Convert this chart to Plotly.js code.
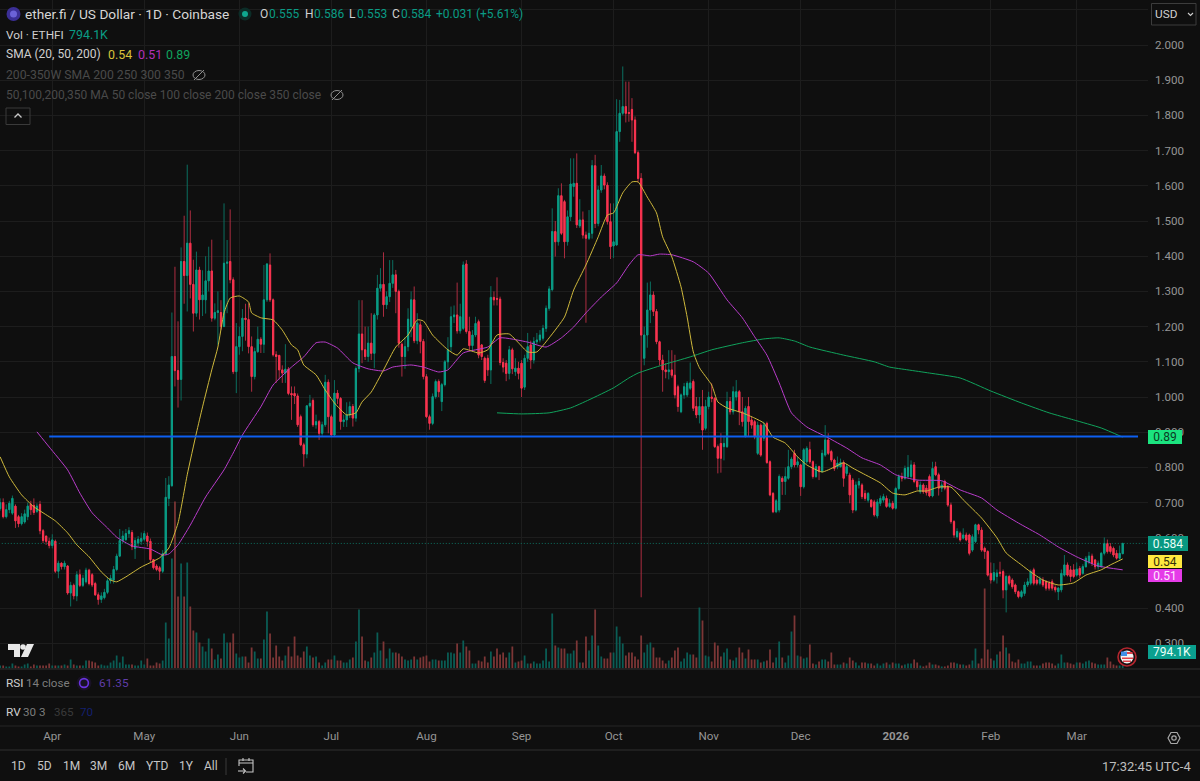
<!DOCTYPE html>
<html><head><meta charset="utf-8">
<script src="https://cdn.plot.ly/plotly-3.0.1.min.js"></script>
<style>html,body{margin:0;padding:0;background:#0f0f0f}#c{width:1200px;height:781px}</style>
</head><body><div id="c"></div>
<script>
// Daily candles from 2025-03-15 to 2026-03-16
const startDay = Date.UTC(2025, 2, 15);
const openPrice = [
.683,.700,.660,.680,.670,.690,.660,.640,.645,.660,
.695,.692,.675,.695,.620,.605,.590,.578,.590,.505,
.528,.518,.520,.443,.465,.435,.495,.465,.475,.508,
.495,.470,.438,.425,.430,.445,.478,.480,.510,.548,
.592,.595,.612,.615,.570,.585,.590,.596,.605,.590,
.538,.520,.515,.505,.555,.712,.748,1.115,1.075,1.05,
1.385,1.345,1.437,1.32,1.238,1.361,1.276,1.276,1.330,1.358,
1.224,1.240,1.240,1.200,1.380,1.385,1.333,1.072,1.143,1.172,
1.224,1.220,1.143,1.058,1.129,1.164,1.150,1.276,1.375,1.276,
1.120,1.118,1.077,1.068,1.079,1.010,1.010,1.003,.944,.864,
.838,.975,.990,.921,.930,.897,.921,1.042,.944,.892,
1.011,.996,.930,.935,.949,.973,.940,1.081,1.179,1.134,
1.115,1.153,1.124,1.233,1.309,1.320,1.262,1.285,1.323,1.347,
1.300,1.150,1.115,1.143,1.200,1.276,1.160,1.205,1.158,1.058,
.944,.925,1.001,1.044,.987,1.035,1.100,1.143,1.228,1.233,
1.188,1.195,1.378,1.186,1.146,1.176,1.214,1.148,1.110,1.110,
1.077,1.283,1.280,1.278,1.098,1.096,1.067,1.134,1.072,1.082,
1.096,1.028,1.110,1.148,1.105,1.157,1.162,1.167,1.195,1.252,
1.305,1.470,1.441,1.572,1.555,1.441,1.512,1.598,1.607,1.486,
1.503,1.460,1.451,1.465,1.657,1.493,1.588,1.628,1.602,1.498,
1.429,1.432,1.754,1.806,1.825,1.808,1.817,1.787,1.694,1.621,
1.110,1.176,1.247,1.290,1.243,1.157,1.105,1.077,1.072,1.077,
1.062,1.029,.958,1.006,1.006,1.025,1.044,.973,.949,.973,
.911,.973,1.0,.996,.859,.868,.859,.859,.987,.958,
1.0,1.015,.958,.887,.973,.935,.93,.84,.92,.883,
.925,.816,.726,.674,.679,.769,.76,.769,.802,.84,
.807,.807,.745,.816,.85,.816,.774,.802,.788,.835,
.878,.845,.821,.802,.802,.814,.783,.778,.764,.679,
.75,.75,.726,.707,.707,.702,.662,.698,.707,.712,
.689,.698,.684,.74,.774,.769,.774,.774,.807,.76,
.731,.75,.741,.774,.719,.802,.779,.741,.76,.745,
.693,.646,.603,.613,.599,.608,.608,.565,.589,.637,
.622,.57,.561,.499,.48,.49,.502,.504,.452,.49,
.48,.466,.447,.433,.442,.466,.471,.509,.48,.471,
.48,.475,.471,.475,.459,.447,.452,.494,.523,.509,
.509,.494,.513,.499,.518,.532,.548,.537,.518,.518,
.556,.584,.575,.57,.556,.542,.555];
const closePrice = [
.700,.660,.680,.698,.712,.648,.640,.660,.668,.690,
.680,.672,.690,.620,.592,.590,.578,.594,.505,.528,
.518,.528,.443,.465,.435,.495,.465,.485,.508,.470,
.466,.438,.425,.435,.445,.478,.485,.510,.548,.592,
.605,.612,.620,.575,.592,.596,.598,.612,.590,.538,
.515,.510,.505,.555,.715,.750,1.115,1.075,1.05,1.385,
1.345,1.437,1.32,1.238,1.361,1.276,1.290,1.330,1.358,1.224,
1.240,1.245,1.200,1.380,1.383,1.333,1.072,1.143,1.172,1.224,
1.220,1.143,1.058,1.129,1.164,1.150,1.276,1.378,1.276,1.120,
1.115,1.077,1.068,1.079,1.010,1.006,1.003,.921,.864,.838,
.975,.982,.921,.930,.897,.921,1.042,.944,.892,1.011,
.996,.930,.935,.949,.973,.940,1.081,1.179,1.134,1.115,
1.153,1.124,1.233,1.309,1.320,1.262,1.285,1.323,1.347,1.300,
1.153,1.115,1.143,1.221,1.276,1.160,1.210,1.158,1.058,.944,
.925,1.001,1.044,1.015,1.035,1.100,1.134,1.228,1.233,1.188,
1.228,1.375,1.186,1.146,1.176,1.209,1.119,1.115,1.047,1.077,
1.283,1.276,1.278,1.098,1.085,1.067,1.134,1.08,1.082,1.067,
1.025,1.110,1.143,1.105,1.157,1.162,1.176,1.195,1.252,1.307,
1.470,1.441,1.572,1.465,1.441,1.512,1.605,1.607,1.489,1.503,
1.460,1.451,1.465,1.657,1.493,1.588,1.628,1.602,1.498,1.427,
1.441,1.754,1.806,1.825,1.806,1.806,1.787,1.694,1.621,1.176,
1.176,1.247,1.290,1.243,1.157,1.105,1.077,1.072,1.077,1.062,
1.006,.973,1.006,1.029,1.039,1.040,.968,.949,.973,.906,
.973,1.0,.996,.859,.826,.826,.868,.987,.958,1.015,
1.015,.958,.93,.968,.93,.92,.887,.92,.835,.92,
.814,.722,.674,.705,.774,.76,.774,.802,.824,.807,
.816,.745,.85,.854,.816,.774,.802,.788,.84,.878,
.84,.821,.797,.812,.814,.769,.802,.722,.679,.75,
.76,.717,.712,.726,.689,.665,.702,.712,.717,.689,
.698,.684,.74,.774,.769,.797,.80,.807,.76,.745,
.75,.731,.728,.719,.797,.779,.741,.75,.741,.693,
.646,.608,.618,.594,.608,.594,.556,.603,.637,.622,
.565,.561,.494,.48,.501,.5,.499,.452,.49,.471,
.461,.447,.433,.447,.466,.475,.504,.471,.471,.482,
.466,.457,.457,.457,.452,.457,.499,.523,.494,.49,
.49,.511,.494,.518,.542,.548,.528,.518,.528,.556,
.584,.561,.561,.551,.542,.556,.584];
const highPrice = [
.712,.712,.695,.705,.720,.695,.665,.670,.680,.700,
.705,.712,.698,.705,.625,.605,.600,.610,.595,.535,
.530,.535,.522,.475,.470,.505,.510,.495,.515,.512,
.500,.475,.445,.445,.455,.485,.495,.520,.555,.625,
.620,.625,.630,.622,.600,.605,.615,.620,.615,.598,
.540,.525,.520,.565,.770,.775,1.24,1.37,1.215,1.425,
1.515,1.66,1.53,1.39,1.413,1.37,1.36,1.40,1.427,1.447,
1.266,1.30,1.275,1.55,1.446,1.533,1.34,1.21,1.20,1.25,
1.265,1.266,1.172,1.14,1.20,1.17,1.375,1.38,1.408,1.28,
1.13,1.12,1.09,1.15,1.085,1.03,1.03,1.01,.95,.87,
.975,1.006,.996,.95,.935,.93,1.063,1.05,.95,1.048,
1.02,1.0,.95,.985,.987,.98,1.087,1.275,1.275,1.20,
1.20,1.238,1.238,1.347,1.366,1.411,1.30,1.389,1.389,1.361,
1.305,1.155,1.17,1.252,1.30,1.314,1.238,1.215,1.165,1.065,
.95,1.01,1.05,1.05,1.04,1.105,1.17,1.257,1.26,1.325,
1.265,1.385,1.389,1.228,1.19,1.228,1.22,1.15,1.115,1.12,
1.315,1.30,1.34,1.285,1.11,1.105,1.145,1.14,1.11,1.10,
1.105,1.12,1.182,1.16,1.17,1.182,1.19,1.205,1.26,1.315,
1.536,1.50,1.593,1.607,1.56,1.53,1.678,1.678,1.692,1.562,
1.527,1.47,1.531,1.673,1.688,1.60,1.659,1.635,1.61,1.55,
1.55,1.846,1.844,1.939,1.896,1.896,1.849,1.797,1.70,1.636,
1.20,1.325,1.328,1.30,1.25,1.16,1.12,1.096,1.133,1.133,
1.12,1.035,1.01,1.04,1.045,1.098,1.05,1.0,1.0,1.02,
.992,1.015,1.039,1.0,.865,.897,.89,1.015,1.0,1.03,
1.048,1.02,1.0,.975,1.0,.945,.935,.93,.925,.93,
.93,.82,.73,.71,.78,.775,.80,.85,.83,.85,
.83,.81,.855,.86,.873,.82,.81,.805,.85,.92,
.897,.85,.825,.831,.825,.82,.81,.785,.77,.76,
.77,.755,.735,.73,.71,.708,.71,.72,.725,.72,
.71,.705,.745,.78,.785,.805,.835,.82,.815,.765,
.76,.755,.75,.78,.816,.816,.785,.76,.765,.75,
.70,.65,.627,.618,.627,.615,.612,.61,.64,.64,
.63,.575,.565,.53,.528,.51,.532,.51,.495,.495,
.485,.47,.45,.452,.475,.485,.51,.515,.488,.49,
.488,.48,.478,.482,.465,.46,.51,.551,.53,.52,
.525,.53,.52,.525,.548,.56,.555,.54,.535,.56,
.601,.595,.585,.575,.565,.578,.586];
const lowPrice = [
.677,.655,.655,.670,.665,.628,.630,.635,.640,.650,
.665,.665,.670,.610,.585,.580,.570,.570,.500,.485,
.510,.510,.438,.405,.425,.420,.460,.460,.470,.465,
.460,.435,.410,.415,.425,.440,.470,.470,.505,.545,
.585,.590,.600,.565,.540,.575,.580,.590,.575,.530,
.510,.505,.480,.500,.550,.690,.745,1.03,.97,.99,
1.265,1.243,1.28,1.186,1.228,1.22,1.23,1.237,1.30,1.214,
1.218,1.148,1.19,1.199,1.238,1.323,1.065,1.011,1.12,1.13,
1.16,1.124,1.015,1.05,1.125,1.125,1.125,1.27,1.27,1.115,
1.04,1.05,1.04,1.04,1.005,.935,.98,.915,.86,.802,
.826,.97,.915,.91,.878,.89,.915,.897,.89,.888,
.98,.907,.915,.915,.94,.916,.93,1.07,1.096,1.105,
1.10,1.105,1.082,1.22,1.30,1.228,1.25,1.27,1.31,1.238,
1.14,1.058,1.08,1.13,1.17,1.153,1.15,1.124,1.05,.94,
.907,.92,.995,1.0,.96,1.03,1.08,1.129,1.21,1.18,
1.18,1.19,1.18,1.134,1.13,1.17,1.11,1.105,1.04,1.06,
1.037,1.26,1.26,1.09,1.07,1.045,1.05,1.065,1.06,1.05,
1.0,1.02,1.10,1.08,1.095,1.15,1.155,1.16,1.185,1.245,
1.30,1.399,1.43,1.46,1.394,1.43,1.50,1.569,1.48,1.48,
1.45,1.211,1.446,1.45,1.48,1.485,1.58,1.59,1.49,1.392,
1.395,1.43,1.725,1.80,1.78,1.782,1.725,1.69,1.61,.431,
1.09,1.14,1.21,1.23,1.15,1.09,1.015,1.053,1.05,1.055,
.996,.958,.954,.995,1.0,1.02,.96,.94,.925,.85,
.905,.965,.985,.855,.783,.785,.82,.855,.95,.95,
.99,.92,.916,.887,.887,.91,.88,.835,.83,.875,
.81,.718,.67,.67,.672,.722,.722,.765,.795,.80,
.80,.719,.74,.81,.81,.768,.77,.764,.785,.83,
.835,.815,.79,.795,.80,.745,.775,.698,.67,.675,
.74,.71,.705,.70,.685,.66,.655,.69,.70,.685,
.685,.68,.68,.735,.76,.765,.77,.77,.755,.735,
.725,.725,.72,.715,.715,.775,.72,.73,.735,.688,
.64,.60,.598,.589,.595,.59,.55,.56,.585,.61,
.56,.54,.49,.47,.475,.47,.49,.428,.388,.465,
.455,.44,.428,.428,.435,.46,.465,.465,.465,.465,
.46,.45,.45,.45,.445,.423,.445,.49,.49,.475,
.485,.49,.485,.495,.515,.525,.52,.51,.51,.515,
.55,.555,.555,.545,.538,.538,.553];
const volumeK = [
750,750,500,500,1250,750,500,500,1000,1250,
500,1000,750,750,750,750,1250,750,750,750,
750,1000,750,2250,1000,750,750,750,2000,2000,
1750,1500,750,1000,750,750,1500,2000,3250,1500,
3000,1000,1000,1000,750,750,2000,1000,2500,750,
750,1500,1250,2000,11500,7500,27500,41750,18000,26250,
18000,26500,15500,9500,9000,6500,5500,4250,7500,5000,
2250,3500,2500,8750,6500,6500,8750,3750,2750,3000,
3000,1500,5250,4250,2500,2500,7250,14250,8750,2750,
5750,3000,2000,3250,5500,3000,8000,3250,2750,4250,
5500,3250,2750,3000,1500,750,1500,2250,2250,3250,
2000,2000,1500,1500,2250,2750,6750,14750,8000,2000,
1750,2750,4000,9000,4500,6750,2500,5000,4000,4000,
3750,3000,2250,2000,2250,3000,2250,2750,3000,3250,
1750,2250,2250,2000,2000,2000,4000,4000,3750,6250,
4000,7000,5500,4500,1250,1250,2000,1750,3000,1500,
4250,3000,5000,3500,4000,2750,4000,5500,1500,1750,
2000,3250,1250,1250,1750,1250,1250,2000,5000,1750,
13750,5750,5250,5000,5000,3750,3750,4500,7000,1500,
1500,8000,4500,8250,14750,5750,3000,2500,2500,4000,
4000,10500,8000,6250,3250,4000,4000,3000,2250,8250,
4000,6000,6500,5250,2750,2750,2000,1250,2000,2750,
4500,5250,1750,2500,4000,3500,3500,2750,15250,12000,
3250,3000,1750,6500,5750,3000,4000,5000,2250,2000,
2750,5250,4000,2500,4750,2250,2250,2250,1500,1750,
2000,4750,1500,2750,6750,2750,1500,3250,9250,13250,
3250,3000,2500,2750,6000,1250,1000,1750,2250,2250,
1750,4000,1000,1000,1000,1500,1250,2750,2000,1500,
750,1500,1500,1250,1250,750,1250,750,1250,1500,
1000,1500,1250,1250,750,1000,1250,1250,2250,1500,
750,500,750,1500,1000,1000,750,500,500,750,
1500,1500,1250,1000,1000,750,1000,2000,5000,1250,
2500,20000,4750,2500,2000,3500,4250,8250,5250,3750,
1750,1500,2250,1250,1250,1750,1750,750,750,750,
1250,1500,1500,1250,750,1250,3500,1500,1500,1250,
1000,1500,1500,1250,1750,2000,1500,1250,1000,1000,
1000,2750,1750,1000,750,750,794];

// Moving averages read at sparse days (day number counted from the first candle)
const sma20Day = [0,3,7,11,14,18,22,25,29,33,36,38,41,46,52,55,58,61,64,66,69,71,73,75,78,81,82,85,89,92,95,97,99,103,106,109,113,116,118,121,125,129,133,136,138,141,146,149,151,156,159,162,166,169,172,175,179,184,187,191,195,198,200,203,206,208,211,214,216,219,222,224,226,228,232,234,237,242,246,249,252,256,260,263,268,272,275,278,281,287,291,295,299,302,306,310,314,320,325,328,333,336,340,345,350,354,359,362,366];
const sma20Val = [.830,.773,.722,.688,.671,.648,.614,.580,.546,.503,.480,.475,.489,.517,.543,.571,.642,.779,.898,.972,1.077,1.142,1.239,1.281,1.287,1.270,1.239,1.225,1.219,1.190,1.148,1.134,1.091,1.063,1.020,.983,.949,.955,.986,1.014,1.077,1.142,1.176,1.219,1.216,1.176,1.134,1.119,1.137,1.125,1.134,1.176,1.179,1.154,1.128,1.128,1.168,1.227,1.304,1.375,1.455,1.517,1.523,1.580,1.611,1.611,1.568,1.523,1.455,1.398,1.313,1.227,1.128,1.083,1.034,.986,.969,.955,.940,.926,.886,.869,.830,.807,.787,.801,.813,.798,.784,.756,.727,.722,.733,.733,.744,.744,.708,.656,.600,.557,.523,.503,.480,.466,.472,.494,.509,.523,.540];
const sma50Day = [12,16,22,26,30,35,38,43,49,53,55,58,62,67,73,76,79,85,89,95,99,103,106,110,115,120,125,128,134,138,143,146,151,159,163,172,178,183,187,191,196,201,205,208,212,215,219,226,231,237,242,246,250,254,258,263,270,276,281,287,292,299,307,313,320,325,332,339,345,351,358,366];
const sma50Val = [.901,.858,.793,.727,.671,.628,.602,.577,.568,.551,.554,.580,.636,.716,.793,.841,.892,.972,1.034,1.085,1.114,1.154,1.156,1.139,1.097,1.080,1.074,1.085,1.091,1.085,1.071,1.077,1.125,1.142,1.168,1.156,1.142,1.168,1.199,1.239,1.284,1.324,1.375,1.404,1.401,1.406,1.404,1.384,1.352,1.276,1.225,1.171,1.119,1.040,.955,.915,.884,.855,.827,.807,.779,.764,.762,.736,.713,.679,.642,.608,.574,.546,.520,.509];
const sma200Day = [162,170,179,186,192,200,205,208,216,225,232,242,249,254,259,264,275,285,290,296,303,313,323,333,342,350,359,366];
const sma200Val = [.955,.952,.955,.969,.992,1.026,1.054,1.068,1.091,1.114,1.134,1.154,1.165,1.168,1.159,1.142,1.119,1.100,1.085,1.077,1.068,1.054,1.017,.983,.955,.935,.912,.886];

// Levels and axis ticks
const levelDays = [16, 371];
const levelPrice = [.8875, .8875];
const lastClose = .584;
const priceTicks = [.3,.4,.5,.6,.7,.8,.9,1,1.1,1.2,1.3,1.4,1.5,1.6,1.7,1.8,1.9,2,2.1];
const priceTickText = ['0.300','0.400','','0.600','0.700','0.800','0.900','1.000','1.100','1.200','1.300','1.400','1.500','1.600','1.700','1.800','1.900','2.000',''];
const monthTicks = ['2025-04-01','2025-05-01','2025-06-01','2025-07-01','2025-08-01','2025-09-01','2025-10-01','2025-11-01','2025-12-01','2026-01-01','2026-02-01','2026-03-01'];
const monthLabels = ['Apr','May','Jun','Jul','Aug','Sep','Oct','Nov','Dec','<b>2026</b>','Feb','Mar'];
const rangeButtons = ['1D','5D','1M','3M','6M','YTD','1Y','All'];
const rangeButtonX = [18,44,71,98,126,157,186,211];

const UP='#0a9c85', DOWN='#f9334f', UPW='#0b6f60', DOWNW='#ad2d40', UPV='#0a5d55', DOWNV='#7c3636';
const FONT='Roboto, "Noto Sans", sans-serif';
const day = n => new Date(startDay + n*86400000).toISOString().slice(0,10);
const dates = closePrice.map((_,i)=>day(i));
const isUp = closePrice.map((c,i)=>c>=openPrice[i]);

const smooth = {shape:'spline',smoothing:0.5,width:1};
const traces = [
 {type:'bar',x:dates,y:volumeK,yaxis:'y',marker:{color:isUp.map(u=>u?UPV:DOWNV),line:{width:0}},hoverinfo:'skip',showlegend:false},
 {type:'candlestick',x:dates,open:openPrice,high:highPrice,low:lowPrice,close:closePrice,yaxis:'y2',whiskerwidth:0,
  increasing:{line:{color:UPW,width:1},fillcolor:UPW},decreasing:{line:{color:DOWNW,width:1},fillcolor:DOWNW},hoverinfo:'skip',showlegend:false},
 {type:'candlestick',x:dates,open:openPrice,close:closePrice,
  high:openPrice.map((o,i)=>Math.max(o,closePrice[i])),low:openPrice.map((o,i)=>Math.min(o,closePrice[i])),yaxis:'y2',whiskerwidth:0,
  increasing:{line:{color:UP,width:1},fillcolor:UP},decreasing:{line:{color:DOWN,width:1},fillcolor:DOWN},hoverinfo:'skip',showlegend:false},
 {type:'scatter',mode:'lines',x:sma200Day.map(day),y:sma200Val,yaxis:'y2',line:Object.assign({color:'#0fa35c'},smooth),hoverinfo:'skip',showlegend:false},
 {type:'scatter',mode:'lines',x:sma50Day.map(day),y:sma50Val,yaxis:'y2',line:Object.assign({color:'#b93ccb'},smooth),hoverinfo:'skip',showlegend:false},
 {type:'scatter',mode:'lines',x:sma20Day.map(day),y:sma20Val,yaxis:'y2',line:Object.assign({color:'#cfb93c'},smooth),hoverinfo:'skip',showlegend:false},
 {type:'scatter',mode:'lines',x:levelDays.map(day),y:levelPrice,yaxis:'y2',line:{color:'#0d5ff0',width:2},hoverinfo:'skip',showlegend:false},
 {type:'scatter',mode:'lines',x:[day(-20),day(400)],y:[lastClose,lastClose],yaxis:'y2',line:{color:'#0d6f60',width:1,dash:'1px,2px'},hoverinfo:'skip',showlegend:false}
];

// px helpers for the page furniture around the chart
const W=1200,H=781;
const fx=x=>x/W, fy=y=>1-y/H;
const ann=[];
function label(x,y,text,size,color,anchor){
  ann.push({xref:'paper',yref:'paper',x:fx(x),y:fy(y),text:text,showarrow:false,xanchor:anchor||'left',yanchor:'middle',
    font:{family:FONT,size:size,color:color},borderpad:0,borderwidth:0});
}
function badge(x,y,w,h,text,bg,color){
  ann.push({xref:'paper',yref:'paper',x:fx(x),y:fy(y),text:text,showarrow:false,xanchor:'left',yanchor:'middle',width:w,height:h,align:'center',valign:'middle',
    bgcolor:bg,font:{family:FONT,size:12,color:color},borderpad:0,borderwidth:0});
}
const sh=[];
const rect=(x0,y0,x1,y1,fill,line,lw)=>sh.push({type:'rect',xref:'paper',yref:'paper',x0:fx(x0),y0:fy(y0),x1:fx(x1),y1:fy(y1),fillcolor:fill||'rgba(0,0,0,0)',line:{color:line||'rgba(0,0,0,0)',width:lw||0}});
const circ=(cx,cy,rx,ry,fill,line,lw)=>sh.push({type:'circle',xref:'paper',yref:'paper',x0:fx(cx-rx),y0:fy(cy-ry),x1:fx(cx+rx),y1:fy(cy+ry),fillcolor:fill||'rgba(0,0,0,0)',line:{color:line||'rgba(0,0,0,0)',width:lw||0}});
const hl=(x0,y0,x1,y1,color,lw)=>sh.push({type:'line',xref:'paper',yref:'paper',x0:fx(x0),y0:fy(y0),x1:fx(x1),y1:fy(y1),line:{color:color,width:lw||1}});
const poly=(pts,fill,line,lw,open)=>sh.push({type:'path',xref:'paper',yref:'paper',path:'M'+pts.map(p=>fx(p[0])+','+fy(p[1])).join('L')+(open?'':'Z'),fillcolor:fill||'rgba(0,0,0,0)',line:{color:line||'rgba(0,0,0,0)',width:lw||0}});

// pane separators
[[669,1.5],[697,1],[726,1],[750,1.5]].forEach(a=>hl(0,a[0],1200,a[0],'#262626',a[1]));

// header
circ(13.5,14,7,7,'#3b2f96');
circ(13.5,14,3.5,3.5,'#6b62d8');
label(25,14,'ether.fi / US Dollar · 1D · Coinbase',13.7,'#d6d6d6');
circ(245,14,6.5,6.5,'#0c2d28');
circ(245,14,3,3,'#0fa78f');
const T='#0a9c85',L='#d0d0d0';
[['O',260,L],['0.555',269,T],['H',305,L],['0.586',313.5,T],['L',349,L],['0.553',356.5,T],['C',392,L],['0.584',400.5,T],['+0.031 (+5.61%)',436,T]]
  .forEach(a=>label(a[1],14,a[0],12,a[2]));
label(6,34.5,'Vol · ETHFI',11.8,'#cfcfcf');
label(68.5,34.5,'794.1K',12.4,T);
label(6,54.5,'SMA (20, 50, 200)',12,'#cfcfcf');
label(108,54.5,'0.54',12.4,'#d8c23a');
label(137.5,54.5,'0.51',12.4,'#b32fb8');
label(166,54.5,'0.89',12.4,'#0fa35c');
label(6,75,'200-350W SMA 200 250 300 350',12.2,'#4a4a4a');
label(6,95,'50,100,200,350 MA 50 close 100 close 200 close 350 close',12,'#4a4a4a');
[[199,75],[337,95]].forEach(p=>{circ(p[0],p[1],6,4.5,null,'#8f8f8f',1);hl(p[0]-5,p[1]+5,p[0]+5,p[1]-5,'#8f8f8f',1);});
rect(6,108,30,124.5,null,'#3a3a3a',1);
poly([[14.5,117.5],[18,114],[21.5,117.5]],null,'#c8c8c8',1.3,true);

// currency button
rect(1151.5,3.5,1196,25,null,'#3c3c3c',1);
label(1155,14,'USD',11.8,'#cfcfcf');
poly([[1188,13],[1190.5,15.5],[1193,13]],null,'#cfcfcf',1.1,true);

// price badges
badge(1148,437,34,14,'0.89','#1be37f','#0b3a24');
badge(1148,543,40,15,'0.584','#089881','#eafff8');
badge(1148,561,34,13,'0.54','#ffe93f','#33300a');
badge(1148,575,34,13,'0.51','#e53be8','#ffe9ff');
badge(1148,652,48,14,'794.1K','#0aa08f','#eafff8');

// tradingview mark
poly([[8,644],[20,644],[20,657],[14,657],[14,650],[8,650]],'#e8e8e8');
circ(23,647,2.8,2.8,'#e8e8e8');
poly([[27,644],[34,644],[28,657],[21,657]],'#e8e8e8');

// flag
circ(1127,657,9,9,'#1a0e10','#b3262e',1.6);
circ(1127,657,6.5,6.5,'#f2f2f2');
rect(1121,651.5,1127,656,'#3f8fe8');
rect(1127,652,1132.5,654,'#e0434b');
rect(1122,657.5,1133,659,'#e0434b');
rect(1123,660.5,1131,662,'#e0434b');

// lower panes
label(6,683,'RSI',11.8,'#cfcfcf');
label(26,683,'14 close',11.6,'#7d7d7d');
circ(84,683,7.5,7.5,'#191225');
circ(84,683,4.4,4.4,null,'#6a33e0',1.6);
label(98.5,683,'61.35',11.8,'#5f3da8');
label(6,712,'RV',11.8,'#cfcfcf');
label(23,712,'30 3',11.6,'#7d7d7d');
label(54,712,'365',11.6,'#3a3a3a');
label(80,712,'70',11.6,'#14206e');

// bottom bar
rangeButtons.forEach((t,i)=>label(rangeButtonX[i],765.5,t,12,'#c6c6c6','center'));
hl(226,758,226,775,'#3a3a3a',1);
rect(239,760,253,772,null,'#c6c6c6',1.1);
hl(239,763,253,763,'#c6c6c6',1);
hl(243,758,243,761,'#c6c6c6',1.1);
hl(249,758,249,761,'#c6c6c6',1.1);
rect(236,766,246,775,'#0f0f0f');
hl(238,771,245,771,'#c6c6c6',1.1);
poly([[243,768.5],[245.5,771],[243,773.5]],null,'#c6c6c6',1.1,true);
label(1191,766,'17:32:45 UTC-4',13,'#bdbdbd','right');
poly([[1168,738],[1171,732.5],[1177,732.5],[1180,738],[1177,743.5],[1171,743.5]],null,'#a8a8a8',1.2);
circ(1174,738,2.2,2.2,null,'#a8a8a8',1.2);

const paneBottomPx = 668.5;
const bottomFrac = 1 - paneBottomPx/H;
const pricePerPx = 0.1/35.2;
const layout = {
  width:W,height:H,autosize:false,margin:{l:0,r:0,t:0,b:0,pad:0},
  paper_bgcolor:'#0f0f0f',plot_bgcolor:'#0f0f0f',showlegend:false,dragmode:false,
  boxgap:0.45,bargap:0.42,barmode:'overlay',
  font:{family:FONT,color:'#9a9a9a'},
  xaxis:{type:'date',domain:[0,1148/W],range:['2025-03-14 23:00','2026-03-24 06:00'],anchor:'free',position:(H-727)/H,
    tickvals:monthTicks,ticktext:monthLabels,tickangle:0,ticks:'',showline:false,zeroline:false,
    showgrid:true,gridcolor:'#1d1d1d',gridwidth:1,tickfont:{family:FONT,size:11.6,color:'#959595'},rangeslider:{visible:false},fixedrange:true},
  yaxis:{domain:[bottomFrac,1],range:[0,paneBottomPx*250],visible:false,fixedrange:true,showgrid:false,zeroline:false},
  yaxis2:{domain:[bottomFrac,1],overlaying:'y',side:'right',anchor:'x',range:[2+45*pricePerPx-paneBottomPx*pricePerPx,2+45*pricePerPx],
    tickvals:priceTicks,ticktext:priceTickText,ticks:'',ticklabelstandoff:6,showline:false,zeroline:false,
    showgrid:true,gridcolor:'#1d1d1d',gridwidth:1,tickfont:{family:FONT,size:11.6,color:'#959595'},fixedrange:true},
  shapes:sh,annotations:ann
};
Plotly.newPlot('c',traces,layout,{displayModeBar:false,staticPlot:true,responsive:false});
</script></body></html>
